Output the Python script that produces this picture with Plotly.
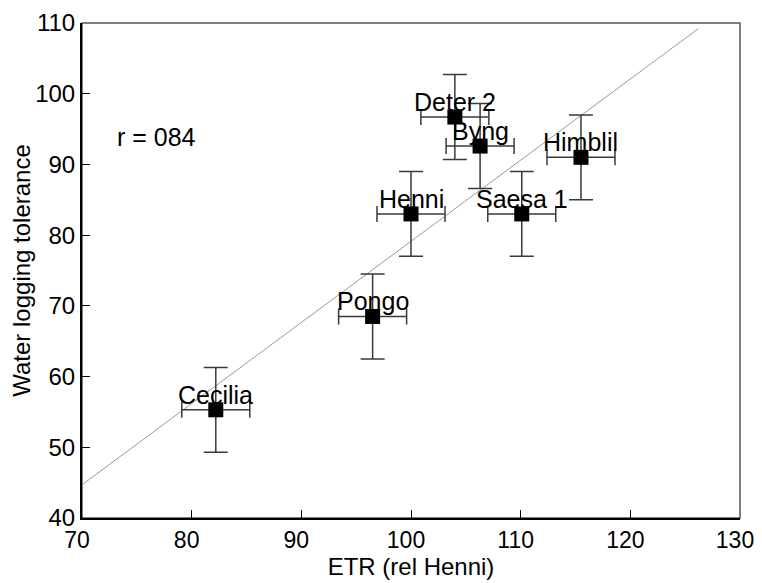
import plotly.graph_objects as go

cultivars = ["Cecilia", "Pongo", "Henni", "Deter 2", "Byng", "Saesa 1", "Himblil"]
etr = [82.2, 96.5, 100.0, 104.0, 106.3, 110.1, 115.5]
tolerance = [55.3, 68.5, 83.0, 96.7, 92.6, 83.0, 91.0]
etr_err = [3.1, 3.1, 3.1, 3.1, 3.1, 3.1, 3.1]
tol_err = [6.0, 6.0, 6.0, 6.0, 6.0, 6.0, 6.0]

fit_x = [70.0, 126.2]
fit_y = [44.7, 109.2]

x_ticks = [70, 80, 90, 100, 110, 120, 130]
y_ticks = [40, 50, 60, 70, 80, 90, 100, 110]

FONT = "Liberation Sans, Arial, sans-serif"

fig = go.Figure()
fig.add_trace(go.Scatter(x=fit_x, y=fit_y, mode="lines",
                         line=dict(color="#9a9a9a", width=1), showlegend=False))
fig.add_trace(go.Scatter(
    x=etr, y=tolerance, mode="markers",
    marker=dict(symbol="square", size=15, color="black"),
    error_x=dict(type="data", array=etr_err, color="#3a3a3a", thickness=1.5, width=8),
    error_y=dict(type="data", array=tol_err, color="#3a3a3a", thickness=1.5, width=12),
    showlegend=False))

for name, xv, yv in zip(cultivars, etr, tolerance):
    fig.add_annotation(x=xv, y=yv, text=name, showarrow=False, yshift=15,
                       font=dict(size=25, color="black", family=FONT))

fig.add_annotation(x=73.0, y=93.9, text="r = 084", showarrow=False, xanchor="left",
                   font=dict(size=25, color="black", family=FONT))

fig.add_shape(type="rect", xref="paper", yref="paper", x0=0, y0=0, x1=1, y1=1,
              line=dict(color="#555555", width=1.5), layer="below")

# page body has an 8px margin, so the figure is sized to compensate
fig.update_layout(
    width=754, height=575,
    margin=dict(l=74, r=22, t=15, b=65),
    paper_bgcolor="white", plot_bgcolor="white",
    font=dict(family=FONT, size=24, color="black"),
    xaxis=dict(range=[70, 130], tickvals=x_ticks, ticks="inside", ticklen=8,
               tickcolor="black", showgrid=False, zeroline=False, automargin=False,
               showline=True, linecolor="black", linewidth=2, ticklabelshift=-5,
               title=dict(text="ETR (rel Henni)", font=dict(size=24), standoff=4),
               tickfont=dict(size=23)),
    yaxis=dict(range=[40, 110], tickvals=y_ticks, ticks="inside", ticklen=8,
               tickcolor="black", showgrid=False, zeroline=False, automargin=False,
               showline=True, linecolor="black", linewidth=2,
               title=dict(text="Water logging tolerance", font=dict(size=24), standoff=6),
               tickfont=dict(size=24)),
)

fig.write_html("out.html")
